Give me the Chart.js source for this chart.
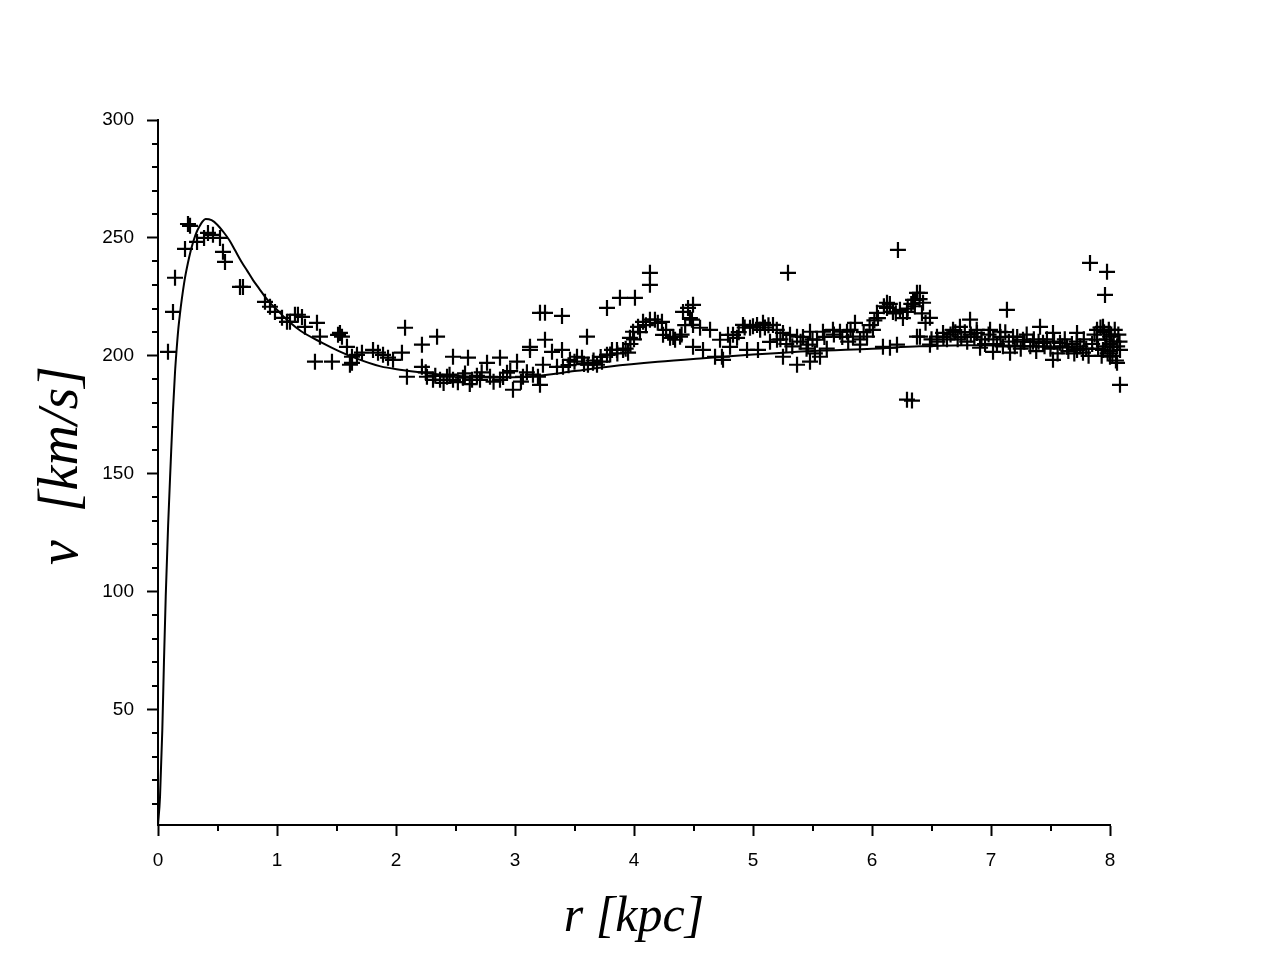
<!DOCTYPE html>
<html>
<head>
<meta charset="utf-8">
<script src="https://cdn.jsdelivr.net/npm/chart.js@4/dist/chart.umd.min.js"></script>
<style>
html,body{margin:0;padding:0;background:#fff;}
#wrap{width:1271px;height:959px;position:relative;}
</style>
</head>
<body>
<div id="wrap"><canvas id="c"></canvas></div>
<script>
// Observed rotation-curve points: radius r [kpc]
const obsR = [
0.084,0.126,0.143,0.227,0.252,0.269,0.328,0.387,0.42,0.462,0.521,0.546,0.563,0.689,0.714,0.899,0.941,0.983,1.042,1.084,1.109,1.151,1.176,1.21,1.235,1.336,1.361,1.319,1.462,1.513,1.546,1.588,1.63,1.613,
1.529,1.63,1.672,1.714,1.807,1.849,1.891,1.933,1.975,2.05,2.076,2.092,2.218,2.218,2.345,2.26,2.311,2.37,2.429,2.479,2.479,2.563,2.605,2.639,2.706,2.765,2.79,2.874,2.874,2.933,2.983,3.017,3.067,3.126,3.151,3.21,
2.25,2.33,2.4,2.45,2.52,2.58,2.62,2.68,2.72,2.82,2.9,2.96,3.05,3.1,
3.126,3.252,3.395,3.252,3.311,3.395,3.235,3.193,3.21,3.353,3.403,3.462,3.521,3.563,3.605,3.613,3.655,3.689,3.731,3.773,3.773,3.815,3.857,3.882,3.908,3.95,4.008,3.966,3.992,4.034,4.076,4.134,4.134,4.134,4.176,4.235,4.244,4.303,4.345,4.387,4.412,4.454,4.496,4.487,4.496,4.555,4.496,4.58,4.639,4.681,4.739,4.723,4.79,
3.45,3.5,3.58,3.66,3.72,3.8,3.86,3.93,3.97,4.0,4.05,4.1,4.2,4.27,4.33,4.4,4.43,4.47,
4.748,4.832,4.866,4.916,4.975,5.034,5.084,5.168,5.294,4.807,4.95,5.042,5.143,5.202,5.252,5.252,5.311,5.37,5.37,5.479,5.462,5.479,5.563,5.538,5.588,5.672,5.731,5.79,5.857,5.84,5.899,5.958,6.008,6.042,6.126,6.126,6.176,6.235,6.294,6.345,6.378,6.092,6.151,6.21,6.378,6.218,6.294,6.336,
4.88,4.93,5.0,5.06,5.1,5.13,5.2,5.23,5.28,5.33,5.4,5.42,5.45,5.5,5.52,5.6,5.62,5.68,5.75,5.8,5.82,5.9,5.93,5.98,6.02,6.05,6.1,6.15,6.2,6.26,6.3,6.33,6.36,6.4,6.42,6.45,
6.403,6.361,6.429,6.487,6.403,6.487,6.546,6.597,6.681,6.739,6.824,6.882,6.908,6.992,7.017,7.076,7.134,7.16,7.185,7.269,7.353,7.412,7.437,7.521,7.521,7.58,7.639,7.723,7.723,7.773,7.832,7.891,7.941,7.975,7.958,8.0,8.025,8.084,8.059,8.084,7.891,7.941,8.0,
6.5,6.55,6.6,6.63,6.66,6.7,6.72,6.75,6.78,6.8,6.83,6.86,6.88,6.92,6.95,6.98,7.02,7.05,7.08,7.1,7.12,7.15,7.2,7.22,7.25,7.28,7.3,7.33,7.36,7.38,7.4,7.45,7.47,7.5,7.53,7.56,7.6,7.62,7.65,7.68,7.7,7.72,7.75,7.78,7.8,7.82,7.85,7.87,7.9,7.92,7.93,7.95,7.96,7.97,7.98,7.99,8.0,8.0,8.01,8.02,8.03,8.04,8.05,8.06,8.07,8.08
];
// Observed rotation velocities v [km/s]
const obsV = [
201.7,218.6,233.1,245.3,255.9,255.1,248.3,250,252.1,251.3,250,244.1,239.8,229.2,229.2,222.9,220.8,218.6,216.1,214.4,214.4,217.4,217.4,216.5,212.3,214,208.1,197.5,197.5,208.9,208.1,203.8,199.6,196.2,
209.7,197,200.4,201.3,202.5,201.3,200.4,199.2,198.3,201.3,211.9,191.1,204.7,195.3,208.1,191.1,189.8,189.8,191.1,199.6,189.8,190.7,199.2,189.8,189.8,197,191.1,199.2,189.8,192.8,185.6,197.5,191.1,202.5,192,218.2,
193,191.5,188.5,192,188.8,192.5,188,191.5,193,189,191,193.5,189,193,
203.8,218.2,216.9,206.8,201.7,202.5,196.2,191.1,187.7,195.3,195.3,198.3,199.6,199.2,208.1,196.2,197,196.2,197.5,220.3,200.4,202.5,202.5,224.6,202.5,201.3,224.6,207.6,210.2,212.3,214.4,215.3,235.2,230.1,215.3,214.4,208.9,207.6,206.8,208.1,218.6,220.3,221.6,215.3,213.1,211.9,203.8,202.5,211,199.6,199.6,206.8,208.9,
196,197.5,196.5,198,199.5,200.5,201,203,205,207,210,213,214,211,208,209,213,216,
198.3,208.9,207.6,213.1,211.9,213.1,214,213.1,235.2,203.8,202.5,202.5,205.9,206.8,209.7,199.6,208.9,208.1,196.2,210.2,204.7,197.5,199.6,206.8,210.2,211,210.2,210.2,214,208.1,204.7,208.1,211,218.2,222.5,220.3,218.6,219.5,218.6,223.7,226.7,203.8,203.4,204.7,208.1,244.9,181.4,181,
210,212,212.5,211,212,213,211,207,205,204,206,208,203,207,201,208,203,209,208,206,211,207,210,213,215,216,221,222,218,216,220,222,221,224,218,214,
226.7,223.7,222.5,216.1,208.1,204.7,208.1,209.7,211,212.3,215.3,209.7,203.4,211,201.7,210.2,219.5,201.3,208.1,206.8,205.9,212.3,205.5,209.7,198.3,205.5,203.8,209.7,202.5,201.3,239.4,211,212.3,235.6,225.8,208.1,203.8,202.5,197,187.7,206.8,202.5,199.6,
207,206,208,207,209,210,207,208,210,206,209,208,211,207,205,209,207,205,208,204,210,206,204,208,203,206,209,204,207,202,206,204,207,203,206,201,204,207,202,205,201,206,204,207,203,200,205,209,203,212,200,210,204,207,201,211,205,202,209,200,206,211,198,204,209,206
];
// Model rotation curve (solid line)
const curveR = [0,0.017,0.036,0.05,0.065,0.085,0.107,0.125,0.143,0.157,0.17,0.185,0.2,0.225,0.25,0.275,0.3,0.325,0.35,0.375,0.4,0.45,0.5,0.55,0.6,0.65,0.7,0.75,0.8,0.85,0.9,0.95,1.0,1.1,1.2,1.38,1.52,1.66,1.87,2.05,2.2,2.5,2.8,3.13,3.5,3.8,4.2,4.58,5.0,5.5,6.0,6.4,6.8,7.2,7.6,8.0];
const curveV = [1,13,41,70,98,128,155,176,193,203,211,218,224,232.5,239,244.5,249,252.5,255,257,258,257.5,255.5,252.5,249,244.5,240,236,232,228.5,225,222,219.5,214.5,210.5,205.5,202,199,195.5,194,193,191.5,190.8,191.2,193.5,195.5,197.5,199,200.5,202,203,204,204.5,204.3,203.5,202.5];
// Axis tick labels
const xTicks = [0,1,2,3,4,5,6,7,8];
const yTicks = [50,100,150,200,250,300];
const xMinor = [0.5,1.5,2.5,3.5,4.5,5.5,6.5,7.5];
const yMinor = [10,20,30,40,60,70,80,90,110,120,130,140,160,170,180,190,210,220,230,240,260,270,280,290];

const minorTicks = {
  id:'minorTicks',
  afterDraw(chart){
    const ctx = chart.ctx, xs = chart.scales.x, ys = chart.scales.y;
    const ca = chart.chartArea;
    ctx.save();
    ctx.strokeStyle = '#000';
    ctx.lineWidth = 2;
    ctx.beginPath();
    xMinor.forEach(v=>{ const p = Math.round(xs.getPixelForValue(v)); ctx.moveTo(p, ca.bottom); ctx.lineTo(p, ca.bottom+6); });
    yMinor.forEach(v=>{ const p = Math.round(ys.getPixelForValue(v)); ctx.moveTo(ca.left, p); ctx.lineTo(ca.left-6, p); });
    ctx.stroke();
    ctx.restore();
  }
};

const pts = obsR.map((r,i)=>({x:r, y:obsV[i]}));
const line = curveR.map((r,i)=>({x:r, y:curveV[i]}));

new Chart(document.getElementById('c'), {
  type:'scatter',
  data:{
    datasets:[
      {label:'model', type:'line', data:line, borderColor:'#000', borderWidth:2, pointRadius:0, fill:false, cubicInterpolationMode:'monotone', clip:false},
      {label:'data', data:pts, pointStyle:'cross', pointRadius:8, pointBorderWidth:2.2, borderColor:'#000', backgroundColor:'#000', clip:false, pointHoverRadius:8}
    ]
  },
  options:{
    responsive:true, maintainAspectRatio:false, animation:false,
    events:[],
    layout:{padding:{left:0, top:120, right:161, bottom:0}},
    plugins:{legend:{display:false}, tooltip:{enabled:false}},
    scales:{
      x:{
        type:'linear', min:0, max:8,
        afterBuildTicks(s){ s.ticks = xTicks.map(v=>({value:v})); },
        afterFit(s){ s.height = 134; },
        border:{display:true, color:'#000', width:2},
        grid:{display:true, drawOnChartArea:false, drawTicks:true, tickLength:11, tickColor:'#000', tickWidth:2},
        ticks:{color:'#000', padding:13, font:{family:"'Liberation Sans', Arial, sans-serif", size:19}, maxRotation:0},
        title:{display:true, text:'r [kpc]', color:'#000', font:{family:"'Liberation Serif', 'DejaVu Serif', serif", style:'italic', size:50}, padding:{top:0,bottom:11}}
      },
      y:{
        type:'linear', min:1, max:300,
        afterBuildTicks(s){ s.ticks = yTicks.map(v=>({value:v})); },
        afterFit(s){ s.width = 158; },
        border:{display:true, color:'#000', width:2},
        grid:{display:true, drawOnChartArea:false, drawTicks:true, tickLength:11, tickColor:'#000', tickWidth:2},
        ticks:{color:'#000', padding:13, font:{family:"'Liberation Sans', Arial, sans-serif", size:19}},
        title:{display:true, text:' v  [km/s]', color:'#000', font:{family:"'Liberation Serif', 'DejaVu Serif', serif", style:'italic', size:56}, padding:{top:29,bottom:0}}
      }
    }
  },
  plugins:[minorTicks]
});
</script>
</body>
</html>
